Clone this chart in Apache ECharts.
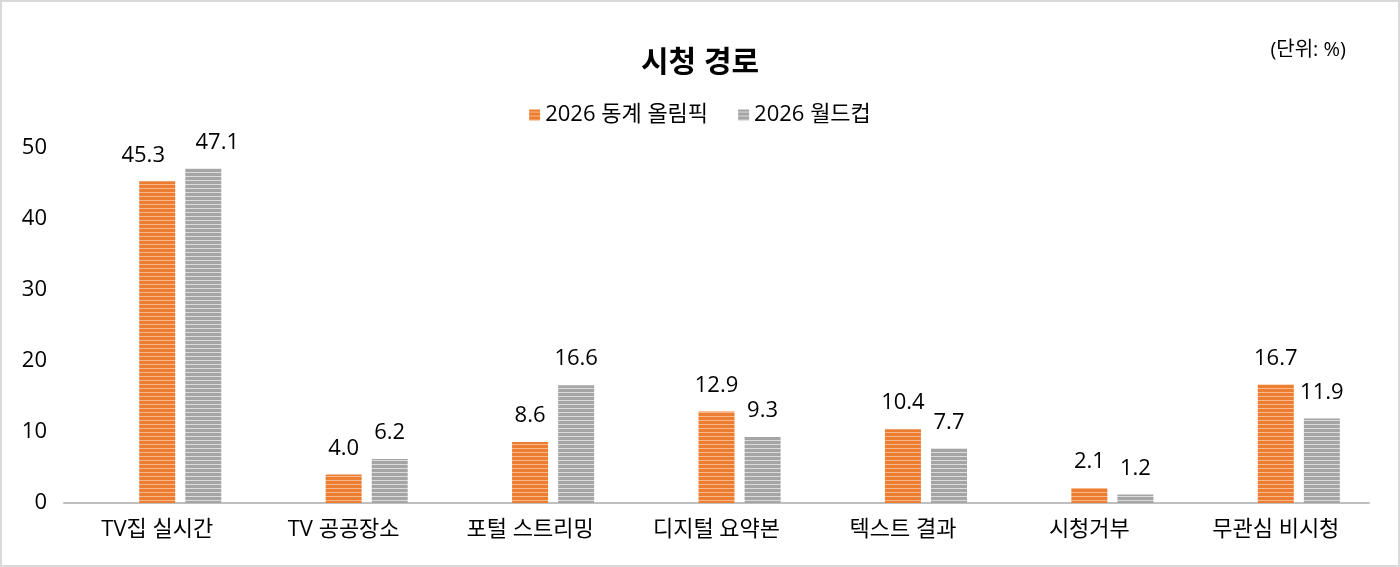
<!DOCTYPE html>
<html>
<head>
<meta charset="utf-8">
<script src="https://cdn.jsdelivr.net/npm/echarts@6/dist/echarts.min.js"></script>
<style>
  html, body { margin: 0; padding: 0; background: #fff; }
  #chart { width: 1400px; height: 567px; box-sizing: border-box; border: 2px solid #d9d9d9; }
</style>
</head>
<body>
<div id="chart"></div>
<script>
const categories = ['TV집 실시간', 'TV 공공장소', '포털 스트리밍', '디지털 요약본', '텍스트 결과', '시청거부', '무관심 비시청'];
const olympics = [45.3, 4.0, 8.6, 12.9, 10.4, 2.1, 16.7];
const worldCup = [47.1, 6.2, 16.6, 9.3, 7.7, 1.2, 11.9];
const seriesNames = ['2026 동계 올림픽', '2026 월드컵'];

// horizontal stripe fill like the original spreadsheet chart
function stripes(base, light) {
  const c = document.createElement('canvas');
  c.width = 4;
  c.height = 4;
  const ctx = c.getContext('2d');
  ctx.fillStyle = base;
  ctx.fillRect(0, 0, 4, 4);
  ctx.fillStyle = light;
  ctx.fillRect(0, 2, 4, 1);
  return { image: c, repeat: 'repeat' };
}

// the first pair's labels were pushed apart in the original so they don't collide
function withNudge(values, dx) {
  return values.map((v, i) => i === 0 ? { value: v, label: { offset: [dx, 0] } } : v);
}

const font = '"Open Sans", "Noto Sans CJK KR", sans-serif';
const chart = echarts.init(document.getElementById('chart'));

const labelOpt = {
  show: true,
  position: 'top',
  distance: 15,
  fontSize: 22,
  color: '#000',
  fontFamily: font,
  formatter: p => p.value.toFixed(1)
};

chart.setOption({
  textStyle: { fontFamily: font },
  title: [
    {
      text: '시청 경로',
      left: 'center',
      top: 41,
      textStyle: { fontSize: 30, fontWeight: 'bold', color: '#000', fontFamily: font }
    },
    {
      text: '(단위: %)',
      right: 47,
      top: 33,
      textStyle: { fontSize: 20, fontWeight: 'normal', color: '#000', fontFamily: font }
    }
  ],
  legend: {
    top: 97,
    left: 'center',
    itemWidth: 11,
    itemHeight: 11,
    itemGap: 30,
    icon: 'rect',
    textStyle: { fontSize: 22, color: '#000', fontFamily: font },
    data: seriesNames
  },
  grid: { left: 62, right: 29, top: 146, bottom: 62 },
  xAxis: {
    type: 'category',
    data: categories,
    axisLine: { lineStyle: { color: '#bfbfbf', width: 2 } },
    axisTick: { show: false },
    axisLabel: { fontSize: 22, color: '#000', margin: 16, fontFamily: font }
  },
  yAxis: {
    type: 'value',
    min: 0,
    max: 50,
    interval: 10,
    axisLine: { show: false },
    axisTick: { show: false },
    splitLine: { show: false },
    axisLabel: { fontSize: 22, color: '#000', margin: 17, fontFamily: font }
  },
  series: [
    // empty slot left of the pair, as in the source chart (orange sits on the category centre)
    { name: 'pad', type: 'bar', data: [], barWidth: 36, barGap: '28%' },
    {
      name: seriesNames[0],
      type: 'bar',
      data: withNudge(olympics, -14),
      barWidth: 36,
      barGap: '28%',
      itemStyle: { color: stripes('#ed7d31', '#f7b98c') },
      label: labelOpt
    },
    {
      name: seriesNames[1],
      type: 'bar',
      data: withNudge(worldCup, 14),
      barWidth: 36,
      itemStyle: { color: stripes('#a5a5a5', '#dcdcdc') },
      label: labelOpt
    }
  ]
});
</script>
</body>
</html>
